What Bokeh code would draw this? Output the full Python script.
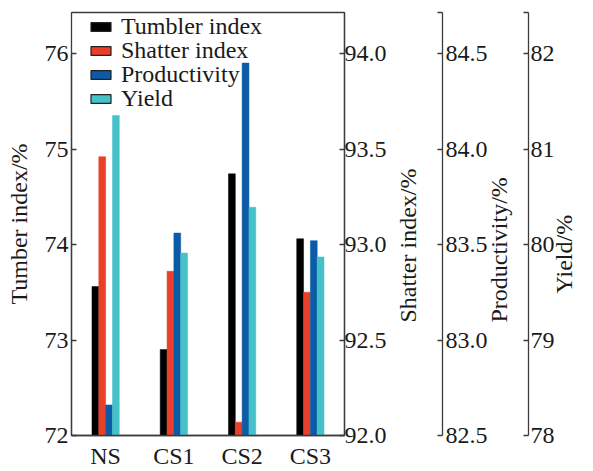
import math
from bokeh.plotting import figure
from bokeh.models import (Range1d, LinearAxis, FixedTicker, ColumnDataSource,
                          Legend, LegendItem)
from bokeh.transform import dodge
from bokeh.embed import file_html
from bokeh.resources import INLINE

categories = ["NS", "CS1", "CS2", "CS3"]
tumbler_index = [73.56, 72.90, 74.74, 74.06]
shatter_index = [93.46, 92.86, 92.07, 92.75]
productivity = [82.66, 83.56, 84.45, 83.52]
yield_pct = [81.35, 79.91, 80.39, 79.87]

tumbler_ticks = [72, 73, 74, 75, 76]
shatter_ticks = [92.0, 92.5, 93.0, 93.5, 94.0]
productivity_ticks = [82.5, 83.0, 83.5, 84.0, 84.5]
yield_ticks = [78, 79, 80, 81, 82]

series_names = ["Tumbler index", "Shatter index", "Productivity", "Yield"]
axis_titles = ["Tumber index/%", "Shatter index/%", "Productivity/%", "Yield/%"]
colors = ["#000000", "#E8402A", "#0B5BA6", "#46C0C9"]

FONT = "Liberation Serif"
FS = "24px"
TXT = "#1a1a1a"
LINE = "#3c3c3c"
EXT = 1.1075  # visible range extends above the last tick
FRAME_L, FRAME_T, FRAME_B = 71, 12, 435


def top_of(ticks):
    return ticks[0] + (ticks[-1] - ticks[0]) * EXT


p = figure(x_range=categories, y_range=Range1d(tumbler_ticks[0], top_of(tumbler_ticks)),
           width=593, height=471, output_backend="svg", toolbar_location=None,
           min_border_left=FRAME_L, min_border_top=FRAME_T, min_border_bottom=471 - FRAME_B,
           min_border_right=247)
p.extra_y_ranges = {
    "shatter": Range1d(shatter_ticks[0], top_of(shatter_ticks)),
    "prod": Range1d(productivity_ticks[0], top_of(productivity_ticks)),
    "yield": Range1d(yield_ticks[0], top_of(yield_ticks)),
}
p.xgrid.visible = False
p.ygrid.visible = False
p.outline_line_color = LINE
p.outline_line_width = 1.3
p.background_fill_color = "white"
p.border_fill_color = "white"

src = ColumnDataSource(dict(cat=categories, t=tumbler_index, s=shatter_index,
                            pr=productivity, y=yield_pct))

offsets = [-0.15, -0.05, 0.05, 0.15]
fields = ["t", "s", "pr", "y"]
rnames = ["default", "shatter", "prod", "yield"]
bottoms = [tumbler_ticks[0], shatter_ticks[0], productivity_ticks[0], yield_ticks[0]]
for off, f, rn, b, c in zip(offsets, fields, rnames, bottoms, colors):
    p.vbar(x=dodge("cat", off, range=p.x_range), top=f, bottom=b, width=0.1,
           source=src, y_range_name=rn, fill_color=c, line_color=c, line_width=0.5)

# legend: one single-item legend per series so rows sit 24 px apart
row_centers = [26.5, 50.7, 74.9, 99.1]  # px from the top of the canvas
ITEM_H = 26.6
for off, f, rn, b, name, c, yc in zip(offsets, fields, rnames, bottoms,
                                      series_names, colors, row_centers):
    r = p.vbar(x=dodge("cat", off, range=p.x_range), top=f, bottom=b, width=0.1,
               source=src, y_range_name=rn, fill_color=c, line_color="#222222",
               line_width=1.2, visible=False)
    leg = Legend(items=[LegendItem(label=name, renderers=[r])],
                 location=(17, FRAME_B - (yc + ITEM_H / 2)), margin=0, padding=0,
                 spacing=0, glyph_width=25, glyph_height=11, label_standoff=8,
                 label_text_font=FONT, label_text_font_size=FS, label_text_color=TXT,
                 background_fill_alpha=0, border_line_color=None)
    p.add_layout(leg, "center")


def style(ax, ticks, fmt=None):
    ax.ticker = FixedTicker(ticks=ticks)
    ax.major_label_text_font = FONT
    ax.major_label_text_font_size = FS
    ax.major_label_text_color = TXT
    ax.axis_line_color = LINE
    ax.axis_line_width = 1.3
    ax.major_tick_line_color = LINE
    ax.major_tick_line_width = 1.3
    ax.major_tick_in = 5
    ax.major_tick_out = 0
    ax.minor_tick_line_color = None
    if fmt:
        ax.major_label_overrides = fmt


def spacer(w):
    """Invisible axis used only to widen the gap between right-hand axes."""
    t0 = tumbler_ticks[0]
    return LinearAxis(ticker=FixedTicker(ticks=[t0]), major_label_overrides={t0: ""},
                      axis_line_color=None, major_tick_line_color="white",
                      minor_tick_line_color=None, major_tick_in=0,
                      major_tick_out=w, major_label_standoff=0)


def title_axis(title, start_px, standoff):
    """Invisible axis whose single tick label is a right-hand title reading upwards."""
    y0, y1 = p.y_range.start, p.y_range.end
    v = round(y0 + (FRAME_B - start_px) * (y1 - y0) / (FRAME_B - FRAME_T), 4)
    return LinearAxis(ticker=FixedTicker(ticks=[v]), major_label_overrides={v: title},
                      major_label_orientation=math.pi / 2,
                      major_label_standoff=standoff,
                      major_label_text_font=FONT, major_label_text_font_size=FS,
                      major_label_text_color=TXT,
                      axis_line_color=None, major_tick_line_color=None,
                      minor_tick_line_color=None, major_tick_in=0, major_tick_out=0)


# left axis
ly = p.yaxis[0]
style(ly, tumbler_ticks)
ly.bounds = (tumbler_ticks[0], tumbler_ticks[-1])
ly.axis_label = axis_titles[0]
ly.axis_label_text_font = FONT
ly.axis_label_text_font_size = FS
ly.axis_label_text_font_style = "normal"
ly.axis_label_text_color = TXT
ly.major_label_standoff = 3
ly.axis_label_standoff = 10

# x axis
xa = p.xaxis[0]
xa.major_label_text_font = FONT
xa.major_label_text_font_size = FS
xa.major_label_text_color = TXT
xa.axis_line_color = LINE
xa.axis_line_width = 1.3
xa.major_tick_line_color = None
xa.minor_tick_line_color = None
xa.major_label_standoff = 1

# right axes
a1 = LinearAxis(y_range_name="shatter")
style(a1, shatter_ticks, {v: f"{v:.1f}" for v in shatter_ticks})
a1.major_label_standoff = 0
p.add_layout(a1, "right")
p.add_layout(title_axis(axis_titles[1], 322, 19), "right")
p.add_layout(spacer(5), "right")

ptop = top_of(productivity_ticks)
a2 = LinearAxis(y_range_name="prod")
style(a2, productivity_ticks + [ptop],
      {**{v: f"{v:.1f}" for v in productivity_ticks}, ptop: ""})
a2.major_label_standoff = 3
p.add_layout(a2, "right")
p.add_layout(title_axis(axis_titles[2], 322, 9), "right")

ytop = top_of(yield_ticks)
a3 = LinearAxis(y_range_name="yield")
style(a3, yield_ticks + [ytop],
      {**{v: f"{v:d}" for v in yield_ticks}, ytop: ""})
a3.major_label_standoff = 2
p.add_layout(a3, "right")
p.add_layout(title_axis(axis_titles[3], 293, 7), "right")

open("out.html", "w").write(file_html(p, INLINE))
